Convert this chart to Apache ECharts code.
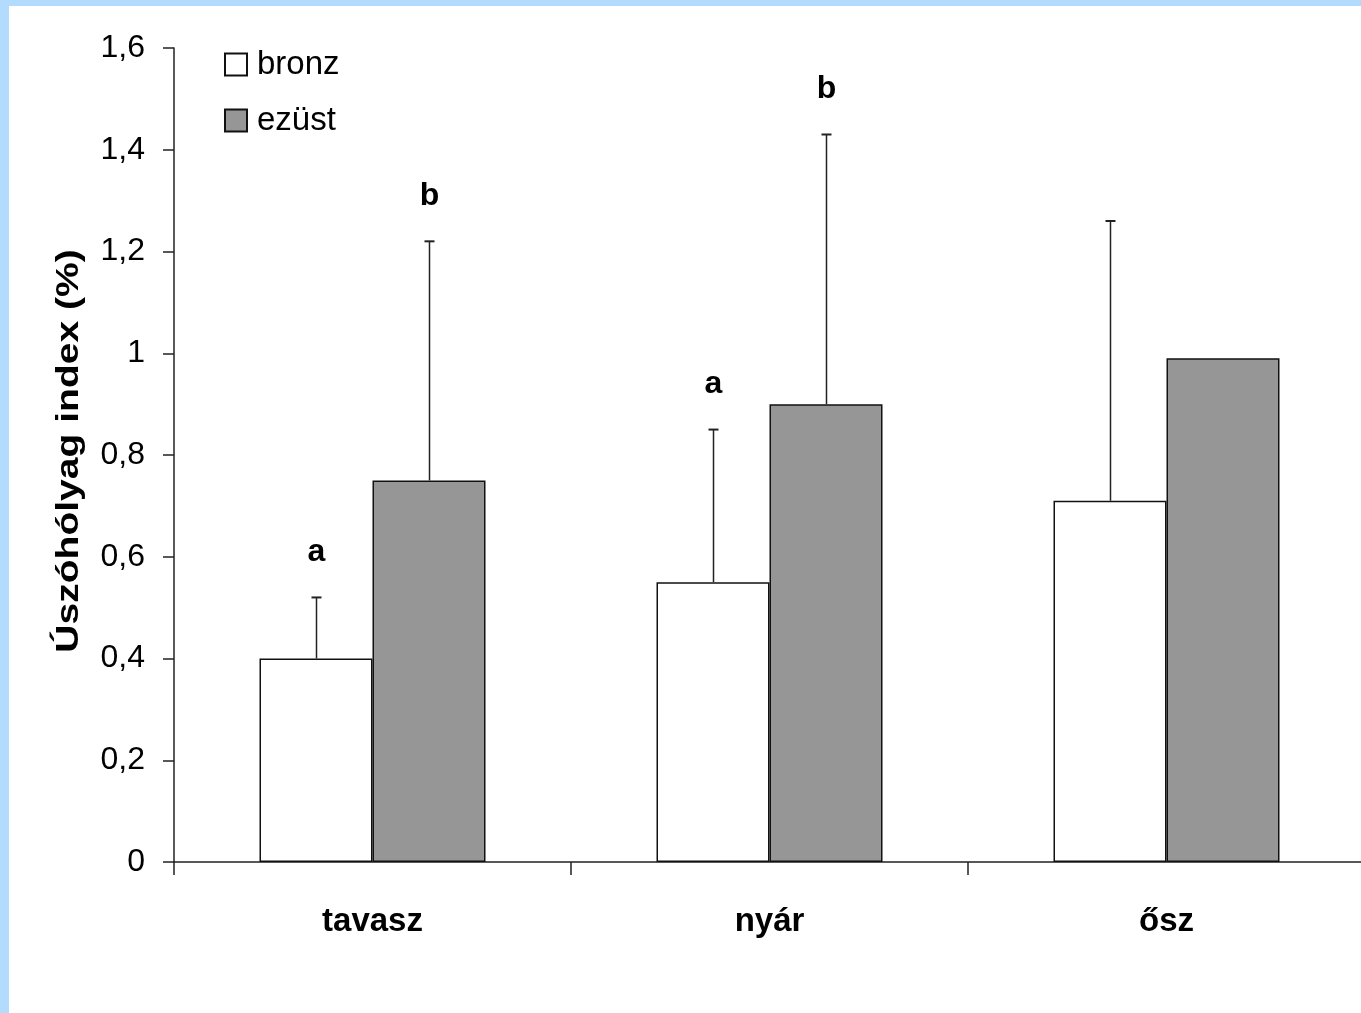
<!DOCTYPE html>
<html>
<head>
<meta charset="utf-8">
<script src="https://cdn.jsdelivr.net/npm/echarts@6/dist/echarts.min.js"></script>
<style>
  html, body { margin: 0; padding: 0; background: #ffffff; overflow: hidden; width: 1361px; height: 1013px; }
  #chart { position: absolute; left: 0; top: 0; width: 1365px; height: 1013px; }
  .frame-top { position: absolute; left: 0; top: 0; width: 1361px; height: 6px; background: #b3dbfd; }
  .frame-left { position: absolute; left: 0; top: 0; width: 9px; height: 1013px; background: #b3dbfd; }
</style>
</head>
<body>
<div id="chart"></div>
<div class="frame-top"></div>
<div class="frame-left"></div>
<script>
// Seasons on the category axis
const categories = ['tavasz', 'nyár', 'ősz'];

// Mean swim-bladder index (%) per group
const bronz = [0.40, 0.55, 0.71];
const ezust = [0.75, 0.90, 0.99];

// Upper error (SD) per group; null = not drawn
const bronzErr = [0.12, 0.30, 0.55];
const ezustErr = [0.47, 0.53, null];

// Significance letters above the error bars
const bronzLetters = ['a', 'a', ''];
const ezustLetters = ['b', 'b', ''];

// Y axis ticks
const yTicks = [0, 0.2, 0.4, 0.6, 0.8, 1, 1.2, 1.4, 1.6];

const FONT = '"Liberation Sans", Arial, sans-serif';
const BAR_W = 113;

function errorSeries(values, errs, letters, side) {
  return {
    type: 'custom',
    name: 'err' + side,
    silent: true,
    z: 5,
    data: values.map((v, i) => [i, v, errs[i] == null ? 0 : errs[i]]),
    renderItem: function (params, api) {
      const i = params.dataIndex;
      const v = api.value(1);
      const e = api.value(2);
      const base = api.coord([api.value(0), v]);
      const top = api.coord([api.value(0), v + e]);
      const x = Math.round(base[0] + side * BAR_W / 2) + 0.5;
      const children = [];
      if (errs[i] != null) {
        children.push({
          type: 'line',
          shape: { x1: x, y1: base[1], x2: x, y2: top[1] },
          style: { stroke: '#222', lineWidth: 1.5 }
        });
        children.push({
          type: 'line',
          shape: { x1: x - 5, y1: top[1], x2: x + 5, y2: top[1] },
          style: { stroke: '#222', lineWidth: 2 }
        });
      }
      if (letters[i]) {
        children.push({
          type: 'text',
          x: x,
          y: top[1] - 29,
          style: {
            text: letters[i],
            font: 'bold 32px ' + FONT,
            fill: '#000',
            align: 'center',
            verticalAlign: 'bottom'
          }
        });
      }
      return { type: 'group', children: children };
    }
  };
}

const chart = echarts.init(document.getElementById('chart'), null, { renderer: 'canvas' });

chart.setOption({
  backgroundColor: '#ffffff',
  animation: false,
  grid: { left: 174, top: 48, right: 0, bottom: 151, containLabel: false },
  legend: {
    data: ['bronz', 'ezüst'],
    orient: 'vertical',
    left: 224,
    top: 48,
    padding: 0,
    itemWidth: 22,
    itemHeight: 22,
    itemGap: 23,
    icon: 'rect',
    selectedMode: false,
    textStyle: { fontFamily: FONT, fontSize: 33, color: '#000', padding: [0, 0, 0, 5] }
  },
  xAxis: {
    type: 'category',
    data: categories,
    axisLine: { lineStyle: { color: '#222', width: 1.5 } },
    axisTick: { show: true, length: 13, lineStyle: { color: '#222', width: 1.5 } },
    axisLabel: { fontFamily: FONT, fontSize: 33, fontWeight: 'bold', color: '#000', margin: 43 }
  },
  yAxis: {
    type: 'value',
    min: yTicks[0],
    max: yTicks[yTicks.length - 1],
    interval: 0.2,
    splitLine: { show: false },
    axisLine: { show: true, lineStyle: { color: '#222', width: 1.5 } },
    axisTick: { show: true, length: 11, lineStyle: { color: '#222', width: 1.5 } },
    axisLabel: {
      fontFamily: FONT,
      fontSize: 32,
      color: '#000',
      margin: 29,
      formatter: v => String(Math.round(v * 10) / 10).replace('.', ',')
    }
  },
  graphic: [{
    type: 'text',
    x: 69,
    y: 451,
    rotation: Math.PI / 2,
    scaleX: 1.22,
    style: {
      text: 'Úszóhólyag index (%)',
      font: 'bold 32px ' + FONT,
      fill: '#000',
      align: 'center',
      verticalAlign: 'middle'
    }
  }],
  series: [
    {
      name: 'bronz',
      type: 'bar',
      data: bronz,
      barWidth: BAR_W,
      barGap: '0%',
      itemStyle: { color: '#ffffff', borderColor: '#111', borderWidth: 1.5 }
    },
    {
      name: 'ezüst',
      type: 'bar',
      data: ezust,
      barWidth: BAR_W,
      barGap: '0%',
      itemStyle: { color: '#969696', borderColor: '#111', borderWidth: 1.5 }
    },
    errorSeries(bronz, bronzErr, bronzLetters, -1),
    errorSeries(ezust, ezustErr, ezustLetters, 1)
  ]
});
</script>
</body>
</html>
